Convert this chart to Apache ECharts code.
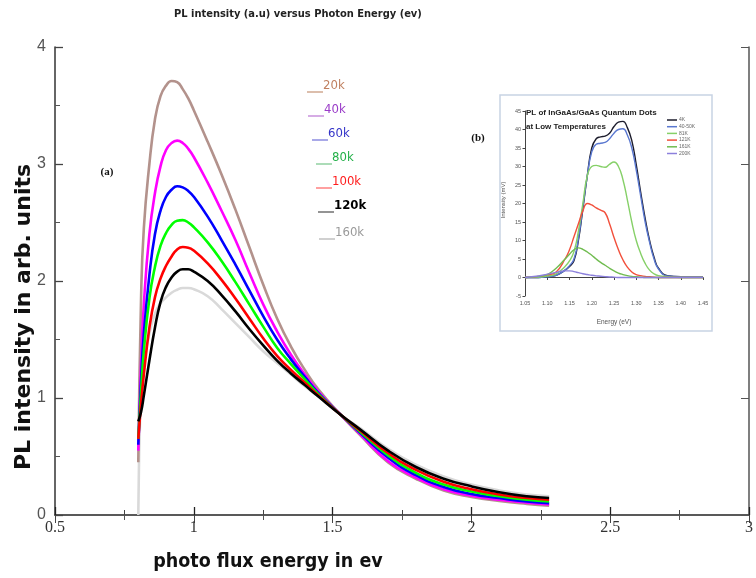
<!DOCTYPE html>
<html>
<head>
<meta charset="utf-8">
<script src="https://cdn.jsdelivr.net/npm/echarts@6/dist/echarts.min.js"></script>
<style>
  html, body { margin: 0; padding: 0; background: #fff; }
  #chart { width: 756px; height: 578px; }
</style>
</head>
<body>
<div id="chart"></div>
<script>
// main plot (a): photon energy (ev) vs PL intensity (arb. units)
const energy = [0.80, 0.81, 0.82, 0.84, 0.86, 0.88, 0.90, 0.92, 0.94, 0.96, 0.98, 1.00, 1.05, 1.10, 1.15, 1.20, 1.25, 1.30, 1.35, 1.40, 1.45, 1.53, 1.60, 1.70, 1.80, 1.90, 2.00, 2.10, 2.20, 2.28];
const pl20k  = [0.45, 1.85, 2.45, 3.00, 3.38, 3.58, 3.67, 3.71, 3.70, 3.64, 3.56, 3.46, 3.19, 2.91, 2.61, 2.29, 1.97, 1.68, 1.44, 1.24, 1.07, 0.855, 0.68, 0.45, 0.31, 0.21, 0.155, 0.12, 0.095, 0.08];
const pl40k  = [0.55, 1.30, 1.80, 2.40, 2.75, 2.98, 3.12, 3.18, 3.20, 3.18, 3.13, 3.06, 2.84, 2.60, 2.35, 2.07, 1.80, 1.57, 1.37, 1.20, 1.05, 0.855, 0.69, 0.46, 0.32, 0.22, 0.165, 0.13, 0.105, 0.09];
const pl60k  = [0.60, 1.15, 1.55, 2.05, 2.40, 2.60, 2.72, 2.78, 2.81, 2.80, 2.77, 2.72, 2.55, 2.35, 2.14, 1.92, 1.70, 1.50, 1.33, 1.18, 1.04, 0.855, 0.70, 0.49, 0.34, 0.24, 0.18, 0.145, 0.115, 0.10];
const pl80k  = [0.65, 1.05, 1.40, 1.85, 2.12, 2.30, 2.41, 2.48, 2.515, 2.52, 2.50, 2.46, 2.33, 2.17, 1.99, 1.80, 1.61, 1.43, 1.29, 1.16, 1.03, 0.855, 0.71, 0.51, 0.36, 0.26, 0.20, 0.16, 0.13, 0.115];
const pl100k = [0.65, 0.95, 1.20, 1.60, 1.86, 2.02, 2.13, 2.21, 2.27, 2.29, 2.285, 2.26, 2.15, 2.01, 1.85, 1.68, 1.51, 1.36, 1.24, 1.13, 1.02, 0.855, 0.72, 0.53, 0.385, 0.285, 0.22, 0.175, 0.145, 0.13];
const pl120k = [0.80, 0.88, 1.02, 1.32, 1.60, 1.82, 1.95, 2.03, 2.08, 2.10, 2.10, 2.08, 2.00, 1.88, 1.74, 1.59, 1.45, 1.32, 1.21, 1.11, 1.01, 0.855, 0.73, 0.55, 0.41, 0.31, 0.245, 0.195, 0.16, 0.145];
const pl160k = [0.00, 1.10, 1.30, 1.55, 1.72, 1.81, 1.86, 1.90, 1.925, 1.94, 1.94, 1.93, 1.87, 1.76, 1.64, 1.52, 1.40, 1.30, 1.20, 1.10, 1.01, 0.855, 0.74, 0.565, 0.43, 0.33, 0.26, 0.21, 0.175, 0.16];
const mainNames = ['20k', '40k', '60k', '80k', '100k', '120k', '160k'];
const mainValues = [pl20k, pl40k, pl60k, pl80k, pl100k, pl120k, pl160k];
const mainColors = ['#b3928c', '#ff00ff', '#0000ff', '#00ff00', '#ff0000', '#000000', '#d9d9d9'];
const labelColors = ['#c08060', '#9a3cc8', '#3434c8', '#22b048', '#ff1c1c', '#000000', '#9a9a9a'];
const dashColors  = ['#d0a890', '#c890dc', '#8c8ce0', '#90d0a0', '#ff8080', '#707070', '#c0c0c0'];

// inset (b): PL of InGaAs/GaAs quantum dots
const insetEnergy = [1.05, 1.08, 1.10, 1.12, 1.14, 1.15, 1.16, 1.17, 1.18, 1.19, 1.20, 1.21, 1.22, 1.23, 1.24, 1.25, 1.26, 1.27, 1.28, 1.29, 1.30, 1.31, 1.32, 1.33, 1.34, 1.35, 1.37, 1.40, 1.45];
const in4K   = [0, 0, 0.2, 0.6, 2, 3, 4.5, 10, 18.5, 27.5, 35, 37.5, 38, 38.2, 39, 40.8, 42, 42.2, 40.5, 37, 30.5, 23, 16, 10, 5.5, 2.5, 0.5, 0.2, 0.2];
const in40K  = [0, 0, 0.2, 0.6, 2, 3.2, 5, 10.5, 19, 27.5, 34, 36, 36.3, 36.5, 37.5, 39, 40, 40.2, 38.5, 35, 29, 22, 15, 9.5, 5, 2.3, 0.4, 0.2, 0.2];
const in81K  = [0, 0.1, 0.4, 1, 3, 4.5, 7, 12.5, 20, 27.5, 30, 30.3, 30, 29.8, 30.6, 31.2, 30, 26.5, 21, 15, 10, 6.5, 3.8, 2, 1, 0.5, 0.2, 0, 0];
const in121K = [0, 0.3, 0.7, 1.5, 5, 7.5, 11, 14.5, 18, 20, 19.6, 18.8, 18.2, 17.5, 14.5, 10.8, 7.5, 4.8, 2.8, 1.5, 0.8, 0.5, 0.3, 0.2, 0.1, 0, 0, 0, 0];
const in161K = [0, 0.3, 0.8, 2.5, 5, 6.3, 7.5, 8, 7.6, 6.9, 6, 5, 4.1, 3.3, 2.5, 1.8, 1.2, 0.8, 0.5, 0.3, 0.2, 0.1, 0, 0, 0, 0, 0, 0, 0];
const in200K = [0, 0.4, 0.9, 1.4, 1.8, 1.8, 1.6, 1.3, 1.0, 0.8, 0.6, 0.45, 0.35, 0.25, 0.15, 0.1, 0, 0, 0, 0, 0, 0, 0, 0, 0, 0, 0, 0, 0];
const insetNames = ['4K', '40-50K', '81K', '121K', '161K', '200K'];
const insetValues = [in4K, in40K, in81K, in121K, in161K, in200K];
const insetColors = ['#1c1c2c', '#5a78d0', '#86d068', '#f2503c', '#70bc50', '#8c80dc'];

const chart = echarts.init(document.getElementById('chart'));

const series = [];
// draw gray first, then the others so the tail order matches
const drawOrder = [6, 0, 1, 2, 3, 4, 5];
drawOrder.forEach(function (k) {
  series.push({
    name: mainNames[k],
    type: 'line',
    xAxisIndex: 0,
    yAxisIndex: 0,
    data: energy.map(function (e, i) { return [e, mainValues[k][i]]; }),
    showSymbol: false,
    smooth: 0.5,
    lineStyle: { color: mainColors[k], width: 2.6 },
    itemStyle: { color: mainColors[k] },
    animation: false
  });
});
insetNames.forEach(function (n, k) {
  series.push({
    name: n,
    type: 'line',
    xAxisIndex: 2,
    yAxisIndex: 2,
    data: insetEnergy.map(function (e, i) { return [e, insetValues[k][i]]; }),
    showSymbol: false,
    smooth: 0.5,
    lineStyle: { color: insetColors[k], width: 1.4 },
    z: 5,
    animation: false
  });
});

const graphics = [];
// inset frame
graphics.push({
  type: 'rect', z: -1,
  shape: { x: 500, y: 95, width: 212, height: 236 },
  style: { fill: '#ffffff', stroke: '#c8d3e4', lineWidth: 1.5 }
});
// titles and labels
graphics.push({
  type: 'text', x: 174, y: 14,
  style: { text: 'PL intensity (a.u) versus Photon Energy (ev)', fontSize: 11, fontWeight: 'bold',
           fontFamily: 'Liberation Sans Narrow, DejaVu Sans Condensed, sans-serif', fill: '#222', verticalAlign: 'middle' }
});
graphics.push({
  type: 'text', x: 24, y: 317, rotation: Math.PI / 2,
  style: { text: 'PL intensity in arb. units', fontSize: 22, fontWeight: 'bold',
           fontFamily: 'DejaVu Sans, sans-serif', fill: '#111', align: 'center', verticalAlign: 'middle' }
});
graphics.push({
  type: 'text', x: 268, y: 562,
  style: { text: 'photo flux energy in ev', fontSize: 19.5, fontWeight: 'bold',
           fontFamily: 'Liberation Sans Narrow, DejaVu Sans Condensed, sans-serif', fill: '#111', align: 'center', verticalAlign: 'middle' }
});
graphics.push({
  type: 'text', x: 107, y: 172,
  style: { text: '(a)', fontSize: 11, fontWeight: 'bold', fontFamily: 'Liberation Serif, serif', fill: '#111', align: 'center', verticalAlign: 'middle' }
});
graphics.push({
  type: 'text', x: 478, y: 138,
  style: { text: '(b)', fontSize: 11, fontWeight: 'bold', fontFamily: 'Liberation Serif, serif', fill: '#111', align: 'center', verticalAlign: 'middle' }
});
// main legend: "__20k" style entries
const legX = [307, 308, 312, 316, 316, 318, 319];
const legY = [86, 110, 134, 158, 182, 206, 233];
mainNames.forEach(function (n, k) {
  graphics.push({
    type: 'line',
    shape: { x1: legX[k], y1: legY[k] + 6, x2: legX[k] + 16, y2: legY[k] + 6 },
    style: { stroke: dashColors[k], lineWidth: 1.5 }
  });
  graphics.push({
    type: 'text', x: legX[k] + 16, y: legY[k],
    style: { text: n, fontSize: 13, fontWeight: k === 5 ? 'bold' : 'normal',
             fontFamily: 'DejaVu Sans Condensed, sans-serif', fill: labelColors[k], verticalAlign: 'middle' }
  });
});
// inset title and axis names
graphics.push({
  type: 'text', x: 526, y: 113,
  style: { text: 'PL of InGaAs/GaAs Quantum Dots', fontSize: 8, fontWeight: 'bold',
           fontFamily: 'Liberation Sans, sans-serif', fill: '#222', verticalAlign: 'middle' }
});
graphics.push({
  type: 'text', x: 526, y: 127,
  style: { text: 'at Low Temperatures', fontSize: 8, fontWeight: 'bold',
           fontFamily: 'Liberation Sans, sans-serif', fill: '#222', verticalAlign: 'middle' }
});
graphics.push({
  type: 'text', x: 503, y: 200, rotation: Math.PI / 2,
  style: { text: 'Intensity (mV)', fontSize: 6, fontFamily: 'Liberation Sans, sans-serif', fill: '#555', align: 'center', verticalAlign: 'middle' }
});
graphics.push({
  type: 'text', x: 614, y: 322,
  style: { text: 'Energy (eV)', fontSize: 6.5, fontFamily: 'Liberation Sans, sans-serif', fill: '#555', align: 'center', verticalAlign: 'middle' }
});
// inset legend
insetNames.forEach(function (n, k) {
  const y = 120 + k * 6.7;
  graphics.push({
    type: 'line',
    shape: { x1: 667, y1: y, x2: 677, y2: y },
    style: { stroke: insetColors[k], lineWidth: 1.5 }
  });
  graphics.push({
    type: 'text', x: 679, y: y,
    style: { text: n, fontSize: 5, fontFamily: 'Liberation Sans, sans-serif', fill: '#666', verticalAlign: 'middle' }
  });
});

const option = {
  backgroundColor: '#ffffff',
  animation: false,
  grid: [
    { left: 55, right: 4, top: 47, bottom: 63 },
    { left: 525, top: 111, width: 178, height: 185 }
  ],
  xAxis: [
    {
      type: 'value', gridIndex: 0, min: 0.5, max: 3, interval: 0.5,
      axisLine: { lineStyle: { color: '#333', width: 1.5 } },
      axisTick: { inside: true, length: 8, lineStyle: { color: '#222', width: 1.3 } },
      minorTick: { show: true, splitNumber: 2, length: 5, lineStyle: { color: '#444' } },
      splitLine: { show: false },
      axisLabel: { margin: 5, fontSize: 16, color: '#333', fontFamily: 'Liberation Serif, serif',
                   formatter: function (v) { return String(+v.toFixed(1)); } }
    },
    {
      type: 'value', gridIndex: 0, position: 'top', min: 0.5, max: 3, interval: 0.5,
      axisLine: { lineStyle: { color: '#555', width: 1.5 } },
      axisTick: { inside: true, length: 8, lineStyle: { color: '#444' } },
      minorTick: { show: true, splitNumber: 2, length: 5, lineStyle: { color: '#555' } },
      splitLine: { show: false },
      axisLabel: { show: false }
    },
    {
      type: 'value', gridIndex: 1, min: 1.05, max: 1.45, interval: 0.05,
      axisLine: { lineStyle: { color: '#444', width: 1 } },
      axisTick: { length: 2.5, lineStyle: { color: '#444' } },
      splitLine: { show: false },
      axisLabel: { margin: 4, fontSize: 5.5, color: '#555', fontFamily: 'Liberation Sans, sans-serif',
                   formatter: function (v) { return v.toFixed(2); } }
    }
  ],
  yAxis: [
    {
      type: 'value', gridIndex: 0, min: 0, max: 4, interval: 1,
      axisLine: { lineStyle: { color: '#333', width: 1.5 } },
      axisTick: { inside: true, length: 8, lineStyle: { color: '#444', width: 1.3 } },
      minorTick: { show: true, splitNumber: 2, length: 5, lineStyle: { color: '#555' } },
      splitLine: { show: false },
      axisLabel: { margin: 9, fontSize: 16, color: '#555', fontFamily: 'Liberation Sans, sans-serif' }
    },
    {
      type: 'value', gridIndex: 0, position: 'right', min: 0, max: 4, interval: 1,
      axisLine: { lineStyle: { color: '#555', width: 1.5 } },
      axisTick: { inside: true, length: 8 },
      splitLine: { show: false },
      axisLabel: { show: false }
    },
    {
      type: 'value', gridIndex: 1, min: -5, max: 45, interval: 5,
      axisLine: { show: true, lineStyle: { color: '#444', width: 1 } },
      axisTick: { show: true, length: 2.5, lineStyle: { color: '#444' } },
      splitLine: { show: false },
      axisLabel: { margin: 4, fontSize: 5.5, color: '#555', fontFamily: 'Liberation Sans, sans-serif' }
    }
  ],
  graphic: graphics,
  series: series
};
chart.setOption(option);
</script>
</body>
</html>
